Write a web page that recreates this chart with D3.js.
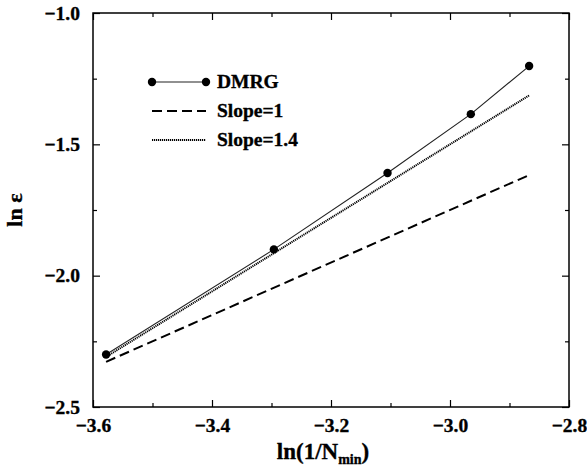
<!DOCTYPE html>
<html>
<head>
<meta charset="utf-8">
<script src="https://cdn.jsdelivr.net/npm/d3@7"></script>
<style>
  body { margin: 0; background: #fff; }
  svg text { font-family: "Liberation Serif", "Times New Roman", serif; font-weight: bold; fill: #000; stroke: #000; stroke-width: 0.35px; }
</style>
</head>
<body>
<script>
const width = 587,
      height = 468;

// DMRG results
const dmrgX = [-3.578, -3.296, -3.105, -2.965, -2.867];
const dmrgY = [-2.300, -1.900, -1.609, -1.385, -1.202];

// reference lines: y = slope * x + intercept, drawn over the data range
const slopes = [1, 1.4];
const intercepts = [1.25, 2.70];
const lineNames = ["Slope=1", "Slope=1.4"];
const legendNames = ["DMRG", "Slope=1", "Slope=1.4"];

const xTicks = [-3.6, -3.4, -3.2, -3.0, -2.8];
const xMinor = [-3.5, -3.3, -3.1, -2.9];
const yTicks = [-2.5, -2.0, -1.5, -1.0];
const yMinor = [-2.25, -1.75, -1.25];

const margin = {top: 13, right: 18, bottom: 61, left: 93};
const innerW = width - margin.left - margin.right,
      innerH = height - margin.top - margin.bottom;

const x = d3.scaleLinear().domain([-3.6, -2.8]).range([0, innerW]);
const y = d3.scaleLinear().domain([-2.5, -1.0]).range([innerH, 0]);

const svg = d3.select("body").append("svg")
    .attr("width", width)
    .attr("height", height);

const g = svg.append("g").attr("transform", `translate(${margin.left},${margin.top})`);

const fmt = d => d3.format(".1f")(d).replace("-", "\u2212");

// axes with inward ticks on all four sides
function drawAxis(axis, transform, withLabels) {
    const a = g.append("g").attr("transform", transform).call(axis);
    a.select(".domain").remove();
    a.selectAll("line").attr("stroke", "#000").attr("stroke-width", 1.2);
    if (!withLabels) a.selectAll("text").remove();
    else a.selectAll("text").style("font-size", "19.5px");
    return a;
}

drawAxis(d3.axisBottom(x).tickValues(xTicks).tickSizeInner(-7).tickPadding(11).tickFormat(fmt),
    `translate(0,${innerH})`, true)
  .selectAll("text").attr("dy", "0.71em");
drawAxis(d3.axisBottom(x).tickValues(xMinor).tickSizeInner(-4).tickFormat(""), `translate(0,${innerH})`, false);
drawAxis(d3.axisTop(x).tickValues(xTicks).tickSizeInner(-7).tickFormat(""), "translate(0,0)", false);
drawAxis(d3.axisTop(x).tickValues(xMinor).tickSizeInner(-4).tickFormat(""), "translate(0,0)", false);

drawAxis(d3.axisLeft(y).tickValues(yTicks).tickSizeInner(-7).tickPadding(13).tickFormat(fmt), "translate(0,0)", true);
drawAxis(d3.axisLeft(y).tickValues(yMinor).tickSizeInner(-4).tickFormat(""), "translate(0,0)", false);
drawAxis(d3.axisRight(y).tickValues(yTicks).tickSizeInner(-7).tickFormat(""), `translate(${innerW},0)`, false);
drawAxis(d3.axisRight(y).tickValues(yMinor).tickSizeInner(-4).tickFormat(""), `translate(${innerW},0)`, false);

g.append("rect")
    .attr("width", innerW).attr("height", innerH)
    .attr("fill", "none").attr("stroke", "#000").attr("stroke-width", 1.5);

// reference lines
const lineStyles = [
    {dash: "10,5", width: 2},
    {dash: "1.2,0.8", width: 2}
];
const xEnds = [dmrgX[0], dmrgX[dmrgX.length - 1]];

slopes.forEach((s, i) => {
    g.append("line")
      .attr("class", "ref " + lineNames[i])
      .attr("x1", x(xEnds[0])).attr("y1", y(s * xEnds[0] + intercepts[i]))
      .attr("x2", x(xEnds[1])).attr("y2", y(s * xEnds[1] + intercepts[i]))
      .attr("stroke", "#000")
      .attr("stroke-width", lineStyles[i].width)
      .attr("stroke-dasharray", lineStyles[i].dash);
});

// DMRG data
const pts = dmrgX.map((d, i) => [d, dmrgY[i]]);
g.append("path")
    .datum(pts)
    .attr("fill", "none")
    .attr("stroke", "#222")
    .attr("stroke-width", 1.1)
    .attr("d", d3.line().x(d => x(d[0])).y(d => y(d[1])));

g.selectAll(".pt")
    .data(pts)
    .enter().append("circle")
    .attr("class", "pt")
    .attr("cx", d => x(d[0]))
    .attr("cy", d => y(d[1]))
    .attr("r", 4.2)
    .attr("fill", "#000");

// legend
const legend = svg.append("g").attr("transform", "translate(152,82)");
const rowGap = 29;
legendNames.forEach((name, i) => {
    const row = legend.append("g").attr("transform", `translate(0,${i * rowGap})`);
    if (i === 0) {
        row.append("line").attr("x1", 0).attr("x2", 54)
          .attr("stroke", "#222").attr("stroke-width", 1.1);
        row.selectAll("circle").data([0, 54]).enter().append("circle")
          .attr("cx", d => d).attr("r", 4.2).attr("fill", "#000");
    } else {
        const st = lineStyles[i - 1];
        row.append("line").attr("x1", 0).attr("x2", 54)
          .attr("stroke", "#000").attr("stroke-width", st.width)
          .attr("stroke-dasharray", st.dash);
    }
    row.append("text")
      .attr("x", 65).attr("y", 6)
      .style("font-size", "19.5px")
      .text(name);
});

// axis titles
const xt = svg.append("text")
    .attr("x", 323)
    .attr("y", 459)
    .attr("text-anchor", "middle")
    .style("font-size", "23px");
xt.append("tspan").text("ln(1/N");
xt.append("tspan").attr("dy", 5).style("font-size", "14px").text("min");
xt.append("tspan").attr("dy", -5).text(")");

svg.append("text")
    .attr("transform", `translate(22,210) rotate(-90)`)
    .attr("text-anchor", "middle")
    .style("font-size", "22px")
    .text("ln \u03b5");
</script>
</body>
</html>
